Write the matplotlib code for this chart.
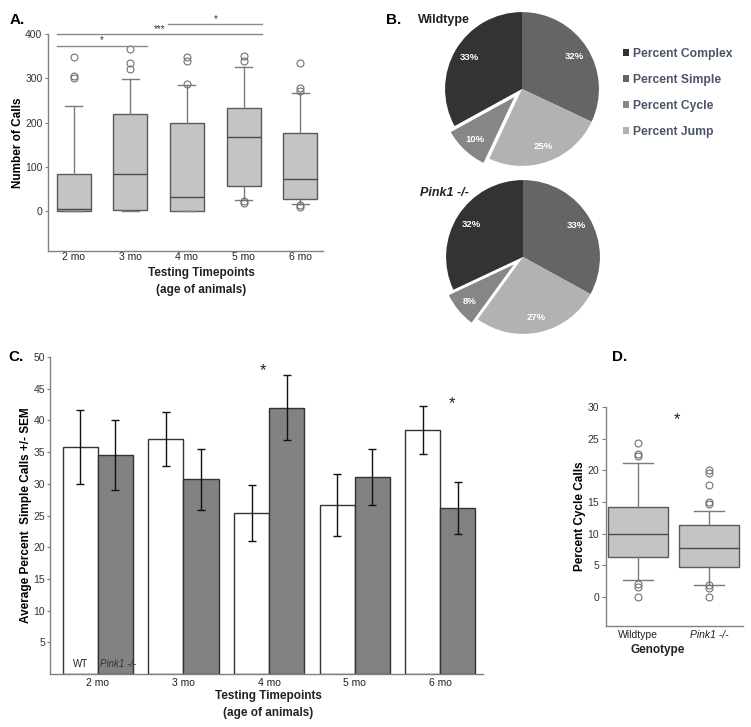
import matplotlib
matplotlib.use("Agg")
import matplotlib.pyplot as plt
from matplotlib.patches import Patch

plt.rcParams['font.family'] = ['Liberation Sans', 'DejaVu Sans']

# ---------------- data ----------------
timepoints = ["2 mo", "3 mo", "4 mo", "5 mo", "6 mo"]

# Panel A: box statistics (Number of Calls)
a_q1 = [0, 2, 0, 57, 27]
a_med = [5, 84, 32, 168, 72]
a_q3 = [84, 219, 200, 233, 176]
a_wlo = [0, 0, 0, 25, 16]
a_whi = [237, 298, 285, 325, 267]
a_fliers = [[300, 305, 348], [320, 335, 365], [288, 338, 348],
            [18, 22, 340, 350], [10, 13, 271, 278, 335]]

# Panel B: pie shares
pie_labels = ["Percent Simple", "Percent Jump", "Percent Cycle", "Percent Complex"]
wt_share = [32, 25, 10, 33]
pink_share = [33, 27, 8, 32]
pie_colors = ["#656565", "#b2b2b2", "#868686", "#333333"]
legend_order = ["Percent Complex", "Percent Simple", "Percent Cycle", "Percent Jump"]

# Panel C: mean percent simple calls +/- SEM
wt_mean = [35.8, 37.0, 25.4, 26.6, 38.5]
wt_sem = [5.85, 4.25, 4.4, 4.9, 3.8]
pink_mean = [34.5, 30.7, 42.0, 31.1, 26.2]
pink_sem = [5.5, 4.85, 5.1, 4.4, 4.15]

# Panel D: box statistics (Percent Cycle Calls)
genotypes = ["Wildtype", "Pink1 -/-"]
d_q1 = [6.3, 4.7]
d_med = [10.0, 7.8]
d_q3 = [14.2, 11.3]
d_wlo = [2.6, 1.8]
d_whi = [21.1, 13.6]
d_fliers = [[0, 1.6, 2.0, 22.2, 22.6, 24.3],
            [0, 1.4, 1.8, 14.6, 15.0, 17.7, 19.6, 20.0]]

# ---------------- figure ----------------
W, H = 751, 727
fig = plt.figure(figsize=(W / 100, H / 100), dpi=100)


def px_axes(left, top, right, bottom):
    return fig.add_axes([left / W, 1 - bottom / H, (right - left) / W, (bottom - top) / H])


def fx(px):
    return px / W


def fy(py):
    return 1 - py / H


SPINE = "#808080"
TICKFS = 7.5
LABFS = 8.5


def style_axes(ax, xpad=3, ypad=2, ylen=3):
    for s in ["top", "right"]:
        ax.spines[s].set_visible(False)
    for s in ["left", "bottom"]:
        ax.spines[s].set_color(SPINE)
        ax.spines[s].set_linewidth(1)
    ax.tick_params(axis="y", colors="#333333", labelsize=TICKFS, length=ylen, color=SPINE, pad=ypad)
    ax.tick_params(axis="x", colors="#222222", labelsize=TICKFS, length=0, pad=xpad)


def box_stats(q1, med, q3, wlo, whi, fl):
    return [dict(q1=a, med=b, q3=c, whislo=d, whishi=e, fliers=f)
            for a, b, c, d, e, f in zip(q1, med, q3, wlo, whi, fl)]


boxprops = dict(facecolor="#c4c4c4", edgecolor="#5a5a5a", linewidth=1)
medprops = dict(color="#4a4a4a", linewidth=1)
whiskprops = dict(color="#7a7a7a", linewidth=1)
capprops = dict(color="#7a7a7a", linewidth=1)
flierprops = dict(marker="o", markerfacecolor="none", markeredgecolor="#707070",
                  markersize=5, markeredgewidth=0.8, linestyle="none")

# ---------------- Panel A ----------------
axA = px_axes(48, 34, 323, 251)
style_axes(axA, xpad=1, ypad=1.5, ylen=2.5)
axA.bxp(box_stats(a_q1, a_med, a_q3, a_wlo, a_whi, a_fliers), positions=range(5),
        widths=0.6, patch_artist=True, boxprops=boxprops, medianprops=medprops,
        whiskerprops=whiskprops, capprops=capprops, flierprops=flierprops)
axA.set_xlim(-0.45, 4.4)
axA.set_ylim(-90, 400)
axA.set_yticks([0, 100, 200, 300, 400])
axA.set_xticks(range(5))
axA.set_xticklabels(timepoints)
axA.set_ylabel("Number of Calls", fontsize=LABFS, fontweight="bold", labelpad=1)
# significance brackets
sig = [(-0.3, 1.3, 374, "*"), (-0.3, 3.33, 400, "***"), (1.67, 3.33, 422, "*")]
for x0, x1, yv, s in sig:
    axA.plot([x0, x1], [yv, yv], color="#8a8a8a", lw=1, clip_on=False)
    axA.text((x0 + x1) / 2, yv, s, ha="center", va="bottom", fontsize=7, color="#333333",
             clip_on=False)
fig.text(fx(201), fy(273), "Testing Timepoints", ha="center", va="center",
         fontsize=LABFS, fontweight="bold", color="#222222")
fig.text(fx(201), fy(290), "(age of animals)", ha="center", va="center",
         fontsize=LABFS, fontweight="bold", color="#222222")
fig.text(fx(10), fy(20), "A.", ha="left", va="center", fontsize=11, fontweight="bold")

# ---------------- Panel B ----------------
def draw_pie(cx, cy, shares):
    ax = px_axes(cx - 100, cy - 100, cx + 100, cy + 100)
    wedges, texts, autotexts = ax.pie(
        shares, colors=pie_colors, startangle=90, counterclock=False,
        explode=[0, 0, 0.1, 0], autopct="%1.0f%%", pctdistance=0.8,
        textprops=dict(color="white", fontsize=6.8, fontweight="bold"))
    wedges[2].set_edgecolor("white")
    wedges[2].set_linewidth(1.5)
    ax.set_xlim(-1.3, 1.3)
    ax.set_ylim(-1.3, 1.3)
    ax.set_aspect("equal")
    ax.axis("off")
    return ax


draw_pie(522, 89, wt_share)
draw_pie(523, 257, pink_share)
fig.text(fx(418), fy(20), "Wildtype", ha="left", va="center", fontsize=9,
         fontweight="bold", color="#222222")
fig.text(fx(420), fy(193), "Pink1 -/-", ha="left", va="center", fontsize=9,
         fontweight="bold", style="italic", color="#222222")
fig.text(fx(386), fy(20), "B.", ha="left", va="center", fontsize=11, fontweight="bold")

handles = [Patch(facecolor=pie_colors[pie_labels.index(l)], edgecolor="none") for l in legend_order]
fig.legend(handles, legend_order, loc="upper left", bbox_to_anchor=(fx(612), fy(37)),
           frameon=False, handlelength=0.5, handleheight=0.5, handletextpad=0.3,
           labelspacing=1.15, prop=dict(size=8.7, weight="bold"), labelcolor="#4b5466")

# ---------------- Panel C ----------------
axC = px_axes(50, 357, 483, 674)
style_axes(axC, ypad=1, ylen=2.5)
xs = list(range(5))
bw = 0.41
wt_x = [x - bw / 2 for x in xs]
pk_x = [x + bw / 2 for x in xs]
wt_bars = axC.bar(wt_x, wt_mean, width=bw, color="white", edgecolor="#333333", linewidth=1)
pk_bars = axC.bar(pk_x, pink_mean, width=bw, color="#828282", edgecolor="#333333", linewidth=1)
axC.errorbar(wt_x, wt_mean, yerr=wt_sem, fmt="none", ecolor="#111111", elinewidth=1, capsize=3)
axC.errorbar(pk_x, pink_mean, yerr=pink_sem, fmt="none", ecolor="#111111", elinewidth=1, capsize=3)
axC.set_xlim(-0.56, 4.5)
axC.set_ylim(0, 50)
axC.set_yticks(range(5, 51, 5))
axC.set_xticks(xs)
axC.set_xticklabels(timepoints)
axC.set_ylabel("Average Percent  Simple Calls +/- SEM", fontsize=LABFS, fontweight="bold",
               labelpad=1)
axC.text(2 - 0.07, 47.8, "*", ha="center", va="center", fontsize=12, color="#222222")
axC.text(4 + 0.14, 42.7, "*", ha="center", va="center", fontsize=12, color="#222222")
axC.text(wt_x[0], 1.5, "WT", ha="center", va="center", fontsize=7, color="#222222")
t = axC.text(pk_x[0] - bw / 2 + 0.02, 1.5, "Pink1 -/-", ha="left", va="center", fontsize=7,
             style="italic", color="#333333")
t.set_clip_path(pk_bars[0])
fig.text(fx(268), fy(696), "Testing Timepoints", ha="center", va="center",
         fontsize=LABFS, fontweight="bold", color="#222222")
fig.text(fx(268), fy(713), "(age of animals)", ha="center", va="center",
         fontsize=LABFS, fontweight="bold", color="#222222")
fig.text(fx(8), fy(357), "C.", ha="left", va="center", fontsize=11, fontweight="bold")

# ---------------- Panel D ----------------
axD = px_axes(606, 407, 743, 626)
style_axes(axD)
axD.bxp(box_stats(d_q1, d_med, d_q3, d_wlo, d_whi, d_fliers), positions=[0, 1],
        widths=0.85, patch_artist=True, boxprops=boxprops, medianprops=medprops,
        whiskerprops=whiskprops, capprops=capprops, flierprops=flierprops)
axD.set_xlim(-0.45, 1.48)
axD.set_ylim(-4.6, 30)
axD.set_yticks(range(0, 31, 5))
axD.set_xticks([0, 1])
axD.set_xticklabels(genotypes)
axD.get_xticklabels()[1].set_style("italic")
axD.set_ylabel("Percent Cycle Calls", fontsize=LABFS, fontweight="bold", labelpad=1)
axD.text(0.55, 28, "*", ha="center", va="center", fontsize=12, color="#222222")
fig.text(fx(658), fy(650), "Genotype", ha="center", va="center",
         fontsize=LABFS, fontweight="bold", color="#222222")
fig.text(fx(612), fy(357), "D.", ha="left", va="center", fontsize=11, fontweight="bold")

fig.savefig("out.png", dpi=100)
